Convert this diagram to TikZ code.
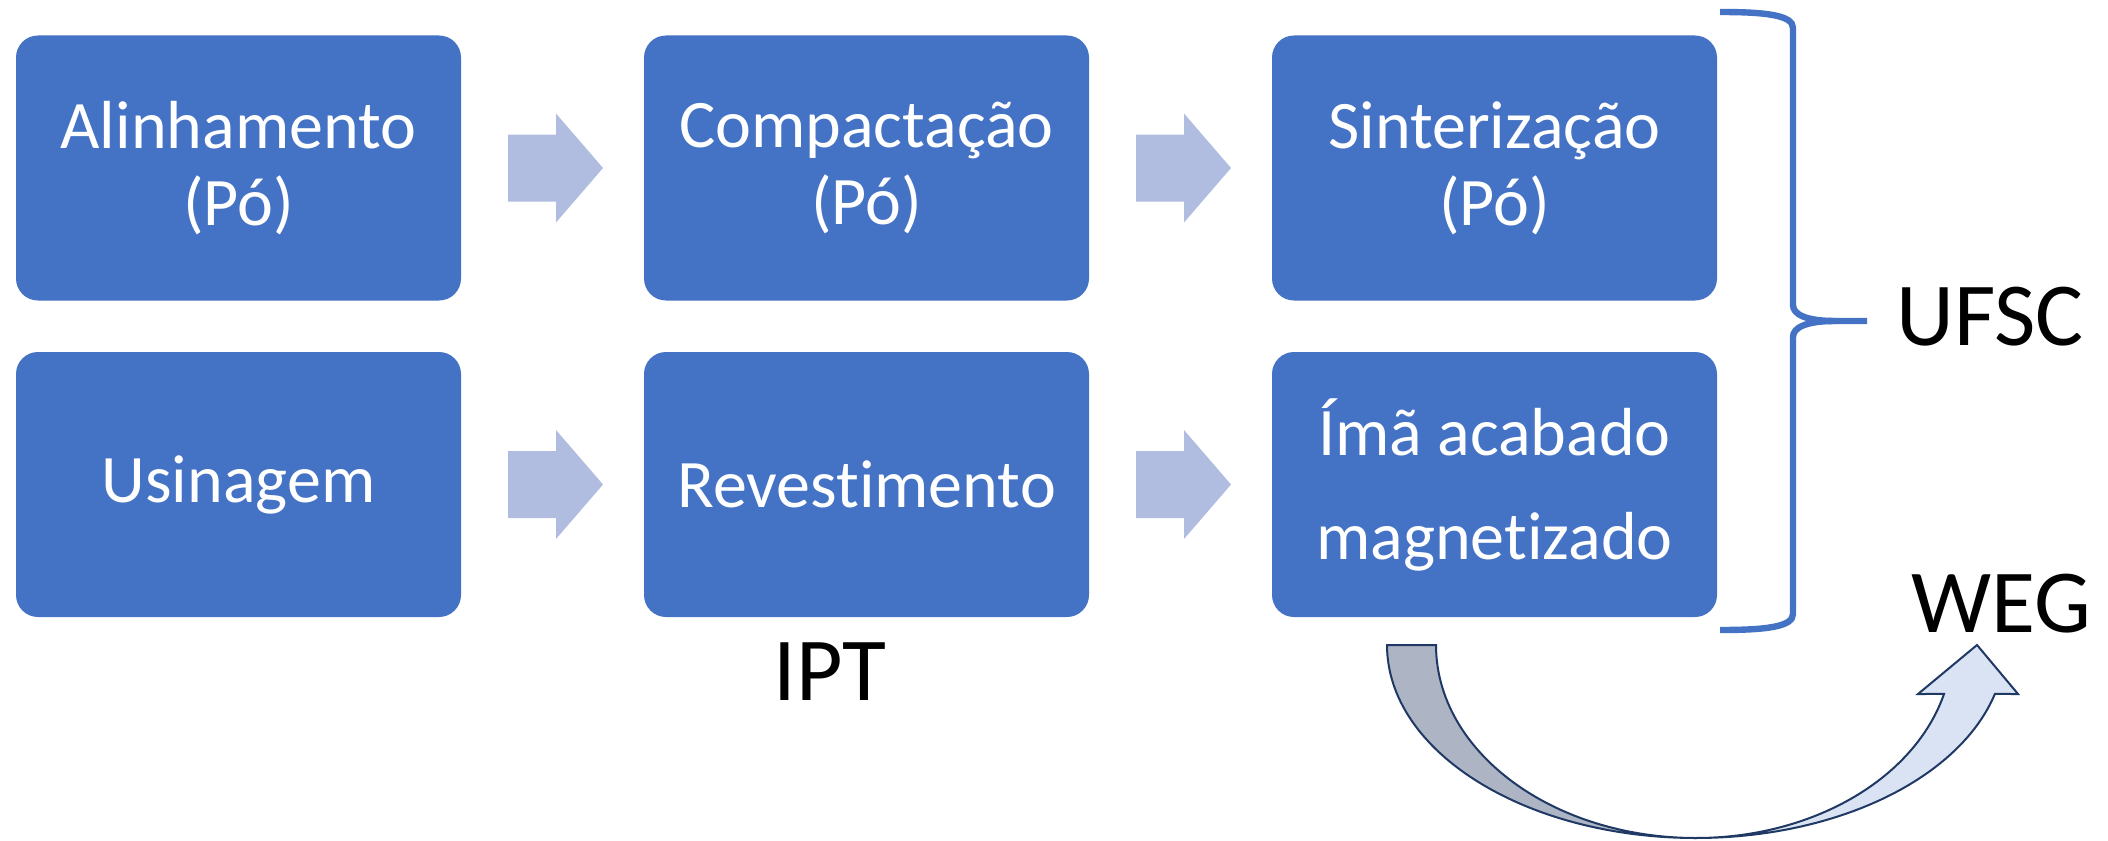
\documentclass[tikz,border=0pt]{standalone}
\usepackage{fontspec}
\setmainfont{Carlito}[RawFeature={-liga;-clig;-dlig}]
\usetikzlibrary{calc}
\definecolor{boxblue}{HTML}{4472C4}
\definecolor{arrowlav}{RGB}{176,189,224}
\definecolor{navy}{HTML}{1F3864}
\definecolor{tailgray}{RGB}{173,181,196}
\definecolor{headlight}{HTML}{DAE3F3}
\tikzset{
  stepbox/.style={fill=boxblue, draw=none, rounded corners=11pt,
    minimum width=222.5pt, minimum height=132.5pt, text=white,
    font=\fontsize{34}{38.5}\selectfont, align=center, inner sep=0pt},
  lbl/.style={font=\fontsize{45}{54}\selectfont, inner sep=0pt, text=black, anchor=base},
  bracestyle/.style={draw=boxblue, line width=3.2pt},
  blockarrow/.pic={\fill[arrowlav] (-44.5,-33.5) -- (3.5,-33.5) -- (3.5,-54.5) -- (50.5,0)
     -- (3.5,54.5) -- (3.5,33.5) -- (-44.5,33.5) -- cycle;}
}
\begin{document}
\begin{tikzpicture}[x=0.5pt,y=-0.5pt]
\useasboundingbox (0,0) rectangle (2108,840);
% boxes
\node[stepbox] (a) at (238.5,168) {Alinhamento\\(Pó)};
\node[stepbox] (b) at (866.5,168) {Compactação\\(Pó)};
\node[stepbox] (c) at (1494.5,168) {Sinterização\\(Pó)};
\node[stepbox] (d) at (238.5,484.5) {Usinagem};
\node[stepbox] (e) at (866.5,484.5) {Revestimento};
\node[stepbox, font=\fontsize{34}{52}\selectfont] (f) at (1494.5,484.5) {Ímã acabado\\magnetizado};
% block arrows
\pic at ($(a.east)!0.5!(b.west)$) {blockarrow};
\pic at ($(b.east)!0.5!(c.west)$) {blockarrow};
\pic at ($(d.east)!0.5!(e.west)$) {blockarrow};
\pic at ($(e.east)!0.5!(f.west)$) {blockarrow};
% brace
\coordinate (bt) at (1720,12);
\coordinate (bm) at (1867,321);
\coordinate (bb) at (1720,630);
\draw[bracestyle] (bt) .. controls (1765,12) and (1793,15) .. (1793,28)
  -- (1793,305) .. controls (1793,314) and (1805,321) .. (1835,321) -- (bm);
\draw[bracestyle] (1835,321) .. controls (1805,321) and (1793,328) .. (1793,337)
  -- (1793,614) .. controls (1793,627) and (1765,630) .. (bb);
% labels
\node[lbl] (ufsc) at (1990,345) {UFSC};
\node[lbl] (weg) at (2001,632) {WEG};
\node[lbl] (ipt) at (830,700) {IPT};
% curved up arrow
\filldraw[fill=headlight, draw=navy, line width=1pt, line join=miter]
  plot[domain=90:14.7, samples=50, variable=\t] ({1696+309*cos(\t)},{645+193*sin(\t)})
  -- (2018,694) -- (1977,645) -- (1918,694)
  -- plot[domain=14.7:90, samples=50, variable=\t] ({1696+256.4*cos(\t)},{645+193*sin(\t)})
  -- cycle;
\filldraw[fill=tailgray, draw=navy, line width=1pt, line join=miter]
  (1387,645) -- (1436,645) .. controls (1436,751.6) and (1552.4,838) .. (1696,838)
  .. controls (1525.3,838) and (1387,751.6) .. (1387,645) -- cycle;
\end{tikzpicture}
\end{document}
